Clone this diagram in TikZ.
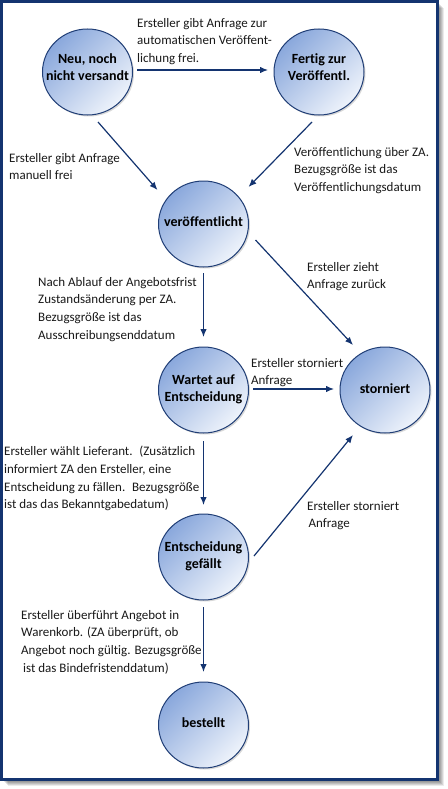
\documentclass[tikz,border=0pt]{standalone}
\usepackage{fontspec}
\setmainfont{Carlito}[Ligatures=NoCommon]
\usetikzlibrary{shapes.geometric,arrows.meta,shadows,calc}
\definecolor{navy}{RGB}{20,52,112}
\definecolor{edgeblue}{RGB}{32,62,118}
\definecolor{fillA}{RGB}{138,168,220}
\definecolor{fillB}{RGB}{238,243,251}
\definecolor{txt}{RGB}{25,25,25}
\begin{document}
\begin{tikzpicture}[x=1pt,y=-1pt,
  state/.style={ellipse, draw=edgeblue, line width=1pt, minimum width=90pt, minimum height=86pt,
    inner sep=0pt, top color=fillA, bottom color=fillB, shading angle=45,
    drop shadow={shadow xshift=1.5pt, shadow yshift=-1.5pt, opacity=0.3}},
  stext/.style={align=center, inner sep=0pt, font=\fontsize{14}{17}\selectfont\bfseries, text=black},
  lbl/.style={anchor=north west, inner sep=0pt, align=left, font=\fontsize{13}{17.7}\selectfont, text=txt},
  arr/.style={draw=navy, line width=1.2pt, -{Latex[length=8pt,width=6.5pt]}}]
\useasboundingbox (0,0) rectangle (447,789);
% frame with shadow
\foreach \k/\o in {3/0.10,4/0.10,5/0.10,6/0.10,7/0.08}
  \fill[black,opacity=\o] (\k+1,\k+1) rectangle (437+\k,779+\k);
\draw[draw=navy, line width=3pt, fill=white] (1.5,1.5) rectangle (437,779.5);
% states
\node[state, label={[stext,yshift=4.5pt]center:Neu, noch\\nicht versandt}] (neu) at (87.5,72) {};
\node[state, label={[stext,yshift=4.5pt]center:Fertig zur\\Veröffentl.}] (fer) at (319,72) {};
\node[state, label={[stext,yshift=2pt]center:veröffentlicht}] (ver) at (203.5,224) {};
\node[state, label={[stext,yshift=1pt]center:Wartet auf\\Entscheidung}] (war) at (203.5,390) {};
\node[state, label={[stext,yshift=1.5pt]center:storniert}] (sto) at (385,390) {};
\node[state, label={[stext,yshift=1pt]center:Entscheidung\\gefällt}] (ent) at (203.5,557) {};
\node[state, label={[stext,yshift=2.5pt]center:bestellt}] (bes) at (203.5,725) {};
% connectors
\draw[arr] ($(neu.center)+(49.5,-2)$) -- ($(fer.center)+(-51,-2)$);
\draw[arr] ($(neu.center)+(10.5,50)$) -- ($(ver.center)+(-46,-34)$);
\draw[arr] ($(fer.center)+(-7,50)$) -- ($(ver.center)+(45,-37)$);
\draw[arr] ($(ver.center)+(52,16)$) -- ($(sto.center)+(-32,-45)$);
\draw[arr] ($(ver.center)+(0,49)$) -- ($(war.center)+(0,-53)$);
\draw[arr] ($(war.center)+(49.5,-1)$) -- ($(sto.center)+(-51,-1)$);
\draw[arr] ($(war.center)+(0,51)$) -- ($(ent.center)+(0,-52)$);
\draw[arr] ($(ent.center)+(50.5,-1)$) -- ($(sto.center)+(-32,45)$);
\draw[arr] ($(ent.center)+(0,50)$) -- ($(bes.center)+(0,-53)$);
% labels
\node[lbl] (la) at (137,18) {Ersteller gibt Anfrage zur\\automatischen Veröffent-\\lichung frei.};
\node[lbl] (lb) at (9,153) {Ersteller gibt Anfrage\\manuell frei};
\node[lbl] (lc) at (294,147) {Veröffentlichung über ZA.\\Bezugsgröße ist das\\Veröffentlichungsdatum};
\node[lbl] (ld) at (307,262) {Ersteller zieht\\Anfrage zurück};
\node[lbl] (le) at (38,277) {Nach Ablauf der Angebotsfrist\\Zustandsänderung per ZA.\\Bezugsgröße ist das\\Ausschreibungsenddatum};
\node[lbl] (lf) at (251,358) {Ersteller storniert\\Anfrage};
\node[lbl] (lg) at (4,446) {Ersteller wählt Lieferant.~ (Zusätzlich\\informiert ZA den Ersteller, eine\\Entscheidung zu fällen.~ Bezugsgröße\\ist das das Bekanntgabedatum)};
\node[lbl] (lh) at (307,501) {Ersteller storniert\\\hspace{1.5pt}Anfrage};
\node[lbl] (li) at (21,610) {Ersteller überführt Angebot in\\Warenkorb. (ZA überprüft, ob\\Angebot noch gültig. Bezugsgröße\\\hspace{2pt}ist das Bindefristenddatum)};
\end{tikzpicture}
\end{document}
